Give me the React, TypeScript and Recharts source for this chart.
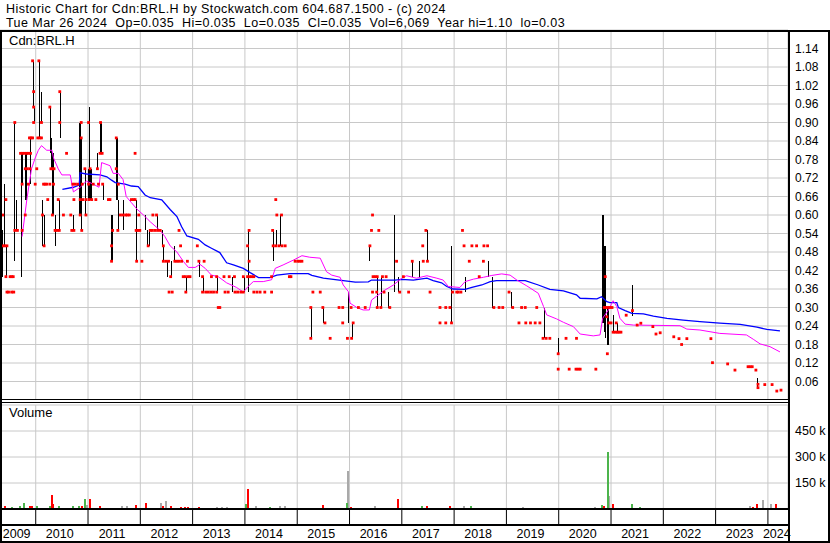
import React from 'react';
import { ComposedChart, Bar, Line, Scatter, XAxis, YAxis, CartesianGrid, Cell } from 'recharts';

const X_MIN = 2009.317;
const X_MAX = 2024.384;

const yearTicks = [2010, 2011, 2012, 2013, 2014, 2015, 2016, 2017, 2018, 2019, 2020, 2021, 2022, 2023, 2024];
const yearLabels = ['2009', '2010', '2011', '2012', '2013', '2014', '2015', '2016', '2017', '2018', '2019', '2020', '2021', '2022', '2023', '2024'];
const yearLabelPos = [2009.636, 2010.46, 2011.46, 2012.46, 2013.46, 2014.46, 2015.46, 2016.46, 2017.46, 2018.46, 2019.46, 2020.46, 2021.46, 2022.46, 2023.46, 2024.17];

const priceTicks = [0.06, 0.12, 0.18, 0.24, 0.3, 0.36, 0.42, 0.48, 0.54, 0.6, 0.66, 0.72, 0.78, 0.84, 0.9, 0.96, 1.02, 1.08, 1.14];
const priceTickLabels = ['0.06', '0.12', '0.18', '0.24', '0.30', '0.36', '0.42', '0.48', '0.54', '0.60', '0.66', '0.72', '0.78', '0.84', '0.90', '0.96', '1.02', '1.08', '1.14'];
const volumeTicks = [150000, 300000, 450000];
const volumeTickLabels = ['150 k', '300 k', '450 k'];

const headerLine1 = 'Historic Chart for Cdn:BRL.H by Stockwatch.com 604.687.1500 - (c) 2024';
const headerLine2 = 'Tue Mar 26 2024  Op=0.035  Hi=0.035  Lo=0.035  Cl=0.035  Vol=6,069  Year hi=1.10  lo=0.03';
const symbolLabel = 'Cdn:BRL.H';
const volumeLabel = 'Volume';

// [year, low, high]
const hlBars = [
  [2009.36, 0.4, 0.55], [2009.4, 0.5, 0.7], [2009.43, 0.4, 0.5], [2009.59, 0.45, 0.9], [2009.63, 0.55, 0.65],
  [2009.71, 0.4, 0.8], [2009.74, 0.7, 0.8], [2009.8, 0.65, 0.8], [2009.82, 0.65, 0.8], [2009.9, 0.7, 0.85],
  [2009.94, 0.95, 1.1], [2009.96, 0.9, 0.95], [2010.06, 0.85, 1.1], [2010.11, 0.9, 1.0], [2010.13, 0.5, 0.65],
  [2010.15, 0.5, 0.6], [2010.27, 0.8, 0.95], [2010.3, 0.75, 0.85], [2010.32, 0.6, 0.8], [2010.33, 0.6, 0.8],
  [2010.36, 0.5, 0.6], [2010.44, 0.55, 0.65], [2010.46, 0.85, 1.0], [2010.72, 0.55, 0.6], [2010.82, 0.6, 0.9],
  [2010.84, 0.6, 0.9], [2010.87, 0.55, 0.85], [2010.94, 0.6, 0.75], [2011.0, 0.65, 0.75], [2011.02, 0.65, 0.95],
  [2011.04, 0.65, 0.75], [2011.06, 0.65, 0.75], [2011.18, 0.75, 0.8], [2011.22, 0.8, 0.9], [2011.24, 0.8, 0.9],
  [2011.28, 0.65, 0.7], [2011.44, 0.45, 0.6], [2011.46, 0.45, 0.6], [2011.53, 0.65, 0.85], [2011.55, 0.65, 0.85],
  [2011.57, 0.55, 0.65], [2011.67, 0.55, 0.65], [2011.92, 0.45, 0.65], [2012.09, 0.55, 0.6], [2012.12, 0.5, 0.55],
  [2012.17, 0.5, 0.55], [2012.31, 0.55, 0.6], [2012.41, 0.5, 0.55], [2012.44, 0.45, 0.5], [2012.52, 0.4, 0.45],
  [2012.59, 0.4, 0.45], [2012.65, 0.45, 0.5], [2012.87, 0.35, 0.4], [2013.13, 0.4, 0.45], [2013.19, 0.35, 0.4],
  [2013.46, 0.35, 0.4], [2013.76, 0.35, 0.4], [2013.99, 0.35, 0.4], [2014.06, 0.35, 0.55], [2014.53, 0.45, 0.55],
  [2014.59, 0.5, 0.55], [2014.68, 0.5, 0.6], [2015.26, 0.2, 0.3], [2015.5, 0.25, 0.3], [2015.98, 0.25, 0.35],
  [2016.04, 0.2, 0.25], [2016.38, 0.45, 0.5], [2016.52, 0.3, 0.4], [2016.6, 0.3, 0.4], [2016.74, 0.3, 0.35],
  [2016.85, 0.35, 0.6], [2016.93, 0.35, 0.4], [2017.19, 0.4, 0.45], [2017.32, 0.4, 0.45], [2017.49, 0.45, 0.55],
  [2017.95, 0.25, 0.5], [2018.21, 0.35, 0.4], [2018.65, 0.4, 0.45], [2018.73, 0.3, 0.4], [2019.09, 0.3, 0.35],
  [2019.71, 0.2, 0.3], [2019.99, 0.15, 0.2], [2020.83, 0.25, 0.6], [2020.85, 0.25, 0.6], [2020.86, 0.22, 0.5],
  [2020.88, 0.2, 0.5], [2020.92, 0.18, 0.3], [2020.95, 0.18, 0.3], [2021.04, 0.22, 0.275], [2021.12, 0.22, 0.25],
  [2021.4, 0.272, 0.373], [2023.8, 0.038, 0.07], [2023.93, 0.045, 0.052],
];

// [year, price] trade ticks
const tradeDots = [
  [2009.94, 1.1], [2010.06, 1.1],
  [2009.96, 1.0], [2010.46, 1.0],
  [2009.96, 0.95], [2010.27, 0.95],
  [2009.6, 0.9], [2009.96, 0.9], [2010.11, 0.9], [2010.46, 0.9], [2010.87, 0.9], [2011.01, 0.9], [2011.24, 0.9],
  [2009.88, 0.85], [2009.91, 0.85], [2009.94, 0.85], [2010.04, 0.85], [2010.08, 0.85], [2010.11, 0.85], [2010.87, 0.85], [2011.54, 0.85],
  [2009.71, 0.8], [2009.75, 0.8], [2009.79, 0.8], [2009.83, 0.8], [2009.86, 0.8], [2009.9, 0.8], [2010.59, 0.8], [2011.23, 0.8], [2011.27, 0.8], [2011.9, 0.8],
  [2009.8, 0.75], [2009.84, 0.75], [2009.89, 0.75], [2010.02, 0.75], [2010.29, 0.75], [2010.32, 0.75], [2010.35, 0.75], [2010.94, 0.75], [2011.04, 0.75], [2011.18, 0.75], [2011.54, 0.75],
  [2009.74, 0.7], [2009.86, 0.7], [2009.99, 0.7], [2010.15, 0.7], [2010.18, 0.7], [2010.21, 0.7], [2010.27, 0.7], [2010.34, 0.7], [2010.71, 0.7], [2010.75, 0.7], [2010.8, 0.7], [2010.89, 0.7], [2011.01, 0.7], [2011.1, 0.7], [2011.2, 0.7], [2011.28, 0.7], [2011.58, 0.7],
  [2009.43, 0.65], [2010.23, 0.65], [2010.43, 0.65], [2010.73, 0.65], [2010.85, 0.65], [2010.9, 0.65], [2010.96, 0.65], [2011.02, 0.65], [2011.07, 0.65], [2011.15, 0.65], [2011.39, 0.65], [2011.42, 0.65], [2011.83, 0.65], [2011.87, 0.65], [2011.9, 0.65], [2014.59, 0.65],
  [2009.37, 0.6], [2009.8, 0.6], [2010.13, 0.6], [2010.32, 0.6], [2010.53, 0.6], [2010.67, 0.6], [2010.85, 0.6], [2010.96, 0.6], [2011.62, 0.6], [2011.67, 0.6], [2011.72, 0.6], [2011.75, 0.6], [2011.79, 0.6], [2011.97, 0.6], [2012.24, 0.6], [2012.31, 0.6], [2014.61, 0.6], [2014.7, 0.6], [2016.44, 0.6],
  [2009.6, 0.55], [2009.65, 0.55], [2009.74, 0.55], [2010.37, 0.55], [2010.41, 0.55], [2010.45, 0.55], [2010.69, 0.55], [2010.73, 0.55], [2010.88, 0.55], [2011.47, 0.55], [2011.57, 0.55], [2011.92, 0.55], [2011.96, 0.55], [2011.99, 0.55], [2012.19, 0.55], [2012.23, 0.55], [2012.28, 0.55], [2012.33, 0.55], [2012.38, 0.55], [2012.74, 0.55], [2014.08, 0.55], [2014.53, 0.55], [2016.42, 0.55], [2016.56, 0.55], [2017.46, 0.55], [2018.16, 0.55],
  [2009.37, 0.5], [2009.41, 0.5], [2009.45, 0.5], [2010.16, 0.5], [2011.45, 0.5], [2012.15, 0.5], [2012.44, 0.5], [2012.77, 0.5], [2013.09, 0.5], [2014.05, 0.5], [2014.54, 0.5], [2014.59, 0.5], [2014.65, 0.5], [2014.71, 0.5], [2014.77, 0.5], [2016.39, 0.5], [2017.4, 0.5], [2018.19, 0.5], [2018.34, 0.5], [2018.43, 0.5], [2018.57, 0.5], [2018.64, 0.5],
  [2011.45, 0.45], [2011.93, 0.45], [2012.03, 0.45], [2012.44, 0.45], [2012.49, 0.45], [2012.54, 0.45], [2012.66, 0.45], [2012.7, 0.45], [2012.74, 0.45], [2012.79, 0.45], [2012.9, 0.45], [2013.12, 0.45], [2013.22, 0.45], [2014.08, 0.45], [2014.96, 0.45], [2015.01, 0.45], [2015.05, 0.45], [2015.09, 0.45], [2016.9, 0.45], [2017.2, 0.45], [2017.41, 0.45], [2017.49, 0.45], [2018.29, 0.45], [2018.56, 0.45],
  [2009.43, 0.4], [2009.51, 0.4], [2009.54, 0.4], [2009.57, 0.4], [2012.58, 0.4], [2012.82, 0.4], [2012.86, 0.4], [2012.91, 0.4], [2012.95, 0.4], [2013.19, 0.4], [2013.36, 0.4], [2013.46, 0.4], [2013.6, 0.4], [2013.7, 0.4], [2013.8, 0.4], [2013.97, 0.4], [2014.05, 0.4], [2014.09, 0.4], [2014.13, 0.4], [2014.17, 0.4], [2014.51, 0.4], [2014.85, 0.4], [2014.88, 0.4], [2016.45, 0.4], [2016.49, 0.4], [2016.53, 0.4], [2016.63, 0.4], [2016.7, 0.4], [2017.03, 0.4], [2018.48, 0.4],
  [2009.45, 0.35], [2009.48, 0.35], [2009.54, 0.35], [2009.58, 0.35], [2012.55, 0.35], [2012.61, 0.35], [2012.87, 0.35], [2013.19, 0.35], [2013.25, 0.35], [2013.3, 0.35], [2013.35, 0.35], [2013.4, 0.35], [2013.46, 0.35], [2013.62, 0.35], [2013.68, 0.35], [2013.81, 0.35], [2013.86, 0.35], [2013.92, 0.35], [2013.97, 0.35], [2014.17, 0.35], [2014.23, 0.35], [2014.29, 0.35], [2014.38, 0.35], [2014.51, 0.35], [2015.3, 0.35], [2015.44, 0.35], [2016.44, 0.35], [2016.52, 0.35], [2016.66, 0.35], [2016.96, 0.35], [2017.13, 0.35], [2017.54, 0.35], [2017.97, 0.35], [2018.05, 0.35], [2018.08, 0.35], [2018.13, 0.35], [2019.05, 0.35],
  [2013.49, 0.3], [2013.52, 0.3], [2015.26, 0.3], [2015.49, 0.3], [2015.8, 0.3], [2015.87, 0.3], [2016.03, 0.3], [2016.17, 0.3], [2016.3, 0.3], [2016.53, 0.3], [2016.6, 0.3], [2016.77, 0.3], [2017.73, 0.3], [2017.84, 0.3], [2017.92, 0.3], [2018.76, 0.3], [2018.86, 0.3], [2018.93, 0.3], [2019.12, 0.3], [2019.29, 0.3], [2019.36, 0.3], [2019.58, 0.3],
  [2015.53, 0.25], [2015.87, 0.25], [2016.07, 0.25], [2017.73, 0.25], [2017.84, 0.25], [2017.95, 0.25], [2019.24, 0.25], [2019.37, 0.25], [2019.46, 0.25], [2019.55, 0.25], [2019.64, 0.25],
  [2015.26, 0.2], [2015.63, 0.2], [2015.96, 0.2], [2016.04, 0.2], [2019.7, 0.2], [2019.76, 0.2], [2019.83, 0.2], [2020.14, 0.2], [2020.34, 0.2],
  [2019.99, 0.15],
  [2019.99, 0.1], [2020.2, 0.1], [2020.33, 0.1], [2020.37, 0.1], [2020.41, 0.1], [2020.71, 0.1],
  [2020.89, 0.4], [2020.87, 0.3], [2020.9, 0.3], [2020.94, 0.3], [2020.98, 0.3], [2021.02, 0.3], [2020.92, 0.27], [2020.96, 0.25], [2021.0, 0.25],
  [2020.93, 0.15], [2021.04, 0.22], [2021.08, 0.22], [2021.12, 0.22], [2021.15, 0.22], [2021.19, 0.22], [2021.1, 0.25],
  [2021.29, 0.275], [2021.41, 0.29], [2021.5, 0.243], [2021.57, 0.249], [2021.8, 0.238], [2021.86, 0.214], [2021.94, 0.218],
  [2022.2, 0.205], [2022.3, 0.199], [2022.35, 0.18], [2022.45, 0.199], [2022.91, 0.199], [2022.94, 0.121], [2023.23, 0.117],
  [2023.37, 0.097], [2023.62, 0.108], [2023.66, 0.108], [2023.7, 0.108], [2023.77, 0.097], [2023.81, 0.051], [2023.81, 0.04],
  [2023.94, 0.05], [2024.08, 0.05], [2024.17, 0.029], [2024.25, 0.032],
];

// long moving average (blue)
const maLong = [
  [2010.51, 0.683], [2010.72, 0.69], [2010.83, 0.697], [2010.85, 0.737], [2010.97, 0.733], [2011.23, 0.73],
  [2011.36, 0.724], [2011.45, 0.713], [2011.52, 0.705], [2011.71, 0.7], [2011.83, 0.694], [2011.96, 0.692],
  [2012.09, 0.665], [2012.19, 0.656], [2012.41, 0.649], [2012.57, 0.618], [2012.7, 0.595], [2012.79, 0.562],
  [2012.89, 0.532], [2013.11, 0.521], [2013.24, 0.503], [2013.36, 0.492], [2013.52, 0.478], [2013.65, 0.445],
  [2013.78, 0.438], [2013.97, 0.427], [2014.1, 0.413], [2014.26, 0.397], [2014.48, 0.397], [2014.61, 0.405],
  [2014.86, 0.41], [2015.21, 0.41], [2015.28, 0.404], [2015.5, 0.395], [2015.69, 0.391], [2015.88, 0.387],
  [2016.11, 0.382], [2016.36, 0.383], [2016.42, 0.389], [2016.87, 0.389], [2017.0, 0.391], [2017.22, 0.389],
  [2017.48, 0.395], [2017.6, 0.387], [2017.76, 0.38], [2017.86, 0.368], [2017.98, 0.36], [2018.21, 0.359],
  [2018.34, 0.365], [2018.53, 0.373], [2018.69, 0.384], [2018.81, 0.387], [2019.36, 0.387], [2019.61, 0.373],
  [2019.83, 0.359], [2020.09, 0.354], [2020.34, 0.341], [2020.41, 0.33], [2020.73, 0.328], [2020.82, 0.335],
  [2020.92, 0.319], [2020.98, 0.316], [2021.11, 0.316], [2021.14, 0.3], [2021.27, 0.29], [2021.4, 0.281],
  [2021.62, 0.279], [2021.81, 0.272], [2022.07, 0.265], [2022.38, 0.259], [2022.7, 0.254], [2023.08, 0.249],
  [2023.47, 0.245], [2023.79, 0.236], [2023.98, 0.229], [2024.23, 0.224],
];

// short moving average (magenta)
const maShort = [
  [2009.74, 0.53], [2009.83, 0.65], [2009.92, 0.75], [2009.99, 0.785], [2010.05, 0.81], [2010.11, 0.825],
  [2010.21, 0.81], [2010.31, 0.81], [2010.34, 0.785], [2010.43, 0.75], [2010.5, 0.73], [2010.66, 0.73],
  [2010.72, 0.675], [2010.85, 0.69], [2010.97, 0.71], [2011.1, 0.7], [2011.21, 0.69], [2011.26, 0.77],
  [2011.42, 0.76], [2011.48, 0.735], [2011.58, 0.735], [2011.67, 0.715], [2011.73, 0.66], [2011.83, 0.64],
  [2011.93, 0.62], [2012.06, 0.6], [2012.19, 0.578], [2012.38, 0.55], [2012.47, 0.53], [2012.57, 0.5],
  [2012.7, 0.48], [2012.82, 0.45], [2012.92, 0.43], [2013.05, 0.43], [2013.14, 0.44], [2013.24, 0.427],
  [2013.36, 0.405], [2013.49, 0.4], [2013.65, 0.38], [2013.84, 0.365], [2013.97, 0.35], [2014.06, 0.368],
  [2014.16, 0.384], [2014.35, 0.384], [2014.51, 0.39], [2014.58, 0.427], [2014.73, 0.438], [2014.93, 0.454],
  [2015.09, 0.468], [2015.24, 0.463], [2015.44, 0.46], [2015.56, 0.416], [2015.66, 0.405], [2015.82, 0.398],
  [2015.88, 0.373], [2015.98, 0.351], [2016.01, 0.314], [2016.14, 0.3], [2016.26, 0.292], [2016.38, 0.292],
  [2016.42, 0.324], [2016.52, 0.337], [2016.68, 0.357], [2016.84, 0.373], [2017.0, 0.395], [2017.09, 0.403],
  [2017.28, 0.395], [2017.48, 0.403], [2017.67, 0.395], [2017.79, 0.389], [2017.89, 0.368], [2018.11, 0.365],
  [2018.21, 0.384], [2018.37, 0.392], [2018.56, 0.398], [2018.72, 0.404], [2018.91, 0.409], [2019.07, 0.405],
  [2019.2, 0.389], [2019.39, 0.37], [2019.61, 0.346], [2019.71, 0.303], [2019.77, 0.276], [2019.96, 0.263],
  [2020.09, 0.252], [2020.28, 0.238], [2020.41, 0.214], [2020.66, 0.208], [2020.79, 0.211], [2020.84, 0.265],
  [2020.95, 0.292], [2021.04, 0.322], [2021.11, 0.303], [2021.17, 0.265], [2021.27, 0.246], [2021.43, 0.243],
  [2022.32, 0.241], [2022.45, 0.23], [2022.7, 0.227], [2023.08, 0.216], [2023.59, 0.211], [2023.72, 0.197],
  [2023.85, 0.182], [2024.04, 0.173], [2024.23, 0.156],
];

// [year, volume, direction] u = up, d = down, n = unchanged
const volumes = [
  [2009.33, 25000, 'u'], [2009.41, 19000, 'd'], [2009.55, 10000, 'u'], [2009.7, 15000, 'u'], [2009.78, 33000, 'u'],
  [2009.89, 19000, 'd'], [2009.93, 19000, 'd'], [2010.03, 19000, 'u'], [2010.18, 6000, 'n'], [2010.27, 19000, 'u'],
  [2010.31, 82000, 'd'], [2010.34, 29000, 'd'], [2010.45, 19000, 'u'], [2010.56, 6000, 'd'], [2010.72, 19000, 'u'],
  [2010.83, 19000, 'u'], [2010.88, 15000, 'd'], [2010.94, 60000, 'u'], [2010.99, 25000, 'n'], [2011.03, 60000, 'd'],
  [2011.13, 6000, 'n'], [2011.23, 15000, 'd'], [2011.42, 6000, 'd'], [2011.52, 6000, 'u'], [2011.65, 15000, 'n'],
  [2011.75, 15000, 'n'], [2011.8, 6000, 'd'], [2011.91, 25000, 'd'], [2011.99, 8000, 'u'], [2012.11, 37000, 'd'],
  [2012.19, 8000, 'u'], [2012.26, 6000, 'u'], [2012.39, 37000, 'n'], [2012.44, 19000, 'd'], [2012.5, 48000, 'n'],
  [2012.58, 19000, 'd'], [2012.68, 8000, 'n'], [2012.78, 12000, 'd'], [2012.85, 12000, 'd'], [2012.91, 12000, 'd'],
  [2013.05, 6000, 'n'], [2013.13, 12000, 'd'], [2013.22, 8000, 'd'], [2013.33, 6000, 'n'], [2013.46, 12000, 'n'],
  [2013.56, 12000, 'n'], [2013.66, 12000, 'n'], [2013.77, 6000, 'd'], [2013.91, 8000, 'n'], [2014.03, 31000, 'u'],
  [2014.06, 117000, 'd'], [2014.14, 8000, 'n'], [2014.21, 19000, 'n'], [2014.33, 6000, 'd'], [2014.48, 12000, 'u'],
  [2014.58, 8000, 'n'], [2014.67, 19000, 'n'], [2014.77, 19000, 'n'], [2014.9, 6000, 'n'], [2015.05, 6000, 'n'],
  [2015.24, 6000, 'u'], [2015.38, 6000, 'd'], [2015.49, 25000, 'd'], [2015.63, 6000, 'n'], [2015.76, 6000, 'u'],
  [2015.87, 6000, 'u'], [2015.97, 220000, 'n'], [2015.96, 37000, 'u'], [2016.03, 12000, 'd'], [2016.16, 6000, 'u'],
  [2016.3, 6000, 'n'], [2016.49, 19000, 'n'], [2016.62, 8000, 'u'], [2016.77, 6000, 'n'], [2016.92, 60000, 'd'],
  [2017.02, 6000, 'n'], [2017.16, 8000, 'n'], [2017.28, 8000, 'd'], [2017.38, 19000, 'u'], [2017.48, 19000, 'd'],
  [2017.58, 6000, 'n'], [2017.73, 8000, 'n'], [2017.83, 8000, 'd'], [2017.93, 19000, 'd'], [2018.06, 8000, 'n'],
  [2018.18, 19000, 'n'], [2018.32, 19000, 'u'], [2018.46, 8000, 'd'], [2018.57, 8000, 'd'], [2018.69, 8000, 'n'],
  [2018.82, 8000, 'n'], [2018.97, 6000, 'n'], [2019.13, 6000, 'd'], [2019.32, 12000, 'n'], [2019.45, 6000, 'n'],
  [2019.64, 8000, 'd'], [2019.8, 6000, 'n'], [2019.95, 6000, 'd'], [2020.14, 6000, 'n'], [2020.33, 6000, 'n'],
  [2020.5, 6000, 'n'], [2020.69, 12000, 'n'], [2020.82, 25000, 'u'], [2020.87, 19000, 'd'], [2020.96, 77000, 'n'],
  [2020.94, 329000, 'u'], [2021.03, 31000, 'd'], [2021.12, 8000, 'd'], [2021.23, 8000, 'u'], [2021.31, 6000, 'd'],
  [2021.4, 31000, 'u'], [2021.5, 8000, 'd'], [2021.56, 12000, 'u'], [2021.75, 6000, 'd'], [2021.84, 6000, 'd'],
  [2021.94, 6000, 'u'], [2022.13, 6000, 'n'], [2022.29, 8000, 'd'], [2022.38, 8000, 'u'], [2022.47, 6000, 'n'],
  [2022.7, 4000, 'n'], [2022.92, 8000, 'd'], [2023.18, 6000, 'd'], [2023.33, 6000, 'd'], [2023.5, 6000, 'n'],
  [2023.66, 19000, 'n'], [2023.72, 12000, 'd'], [2023.79, 31000, 'd'], [2023.91, 54000, 'n'], [2024.05, 27000, 'n'],
  [2024.15, 31000, 'd'], [2024.23, 8000, 'u'],
];

const volColors = { u: '#4cb44c', d: '#ff0000', n: '#a9a9a9' };

const barRows = hlBars.map(([t, lo, hi]) => ({ t, hl: [lo, hi] }));
const dotRows = tradeDots.map(([t, p]) => ({ t, p }));
const maLongRows = maLong.map(([t, v]) => ({ t, v }));
const maShortRows = maShort.map(([t, v]) => ({ t, v }));
const volRows = volumes.map(([t, v, c]) => ({ t, v, c }));

const FONT = '"Liberation Sans", Arial, sans-serif';

const RedTick = (props: any) => {
  const { cx, cy } = props;
  if (cx == null || cy == null) return <g />;
  return <rect x={cx - 1.4} y={cy - 1.4} width={2.8} height={2.8} fill="#ff0000" />;
};

// draws the library-positioned bar as a fixed-width stick centred on its slot
const makeStick = (w: number) => (props: any) => {
  const { x, y, width, height, fill } = props;
  if (x == null || y == null || height == null) return <g />;
  const cx = Math.round(x + (width || 0) / 2);
  const top = Math.min(y, y + height);
  const h = Math.max(Math.abs(height), 1);
  return <rect x={cx - w / 2} y={top} width={w} height={h} fill={fill} shapeRendering="crispEdges" />;
};
const PriceStick = makeStick(1);
const VolumeStick = makeStick(2);

const EmptyTick = () => <g />;

const line = (style: React.CSSProperties) => (
  <div style={{ position: 'absolute', background: '#000', ...style }} />
);

const headerStyle: React.CSSProperties = {
  position: 'absolute',
  left: 6,
  fontSize: 12.5,
  letterSpacing: '0.45px',
  lineHeight: '14px',
  whiteSpace: 'pre',
  color: '#000',
};

export default function App() {
  return (
    <div style={{ position: 'absolute', left: 0, top: 0, width: 830, height: 543, background: '#fff', fontFamily: FONT, overflow: 'hidden' }}>
      <div style={{ ...headerStyle, top: 2 }}>{headerLine1}</div>
      <div style={{ ...headerStyle, top: 16 }}>{headerLine2}</div>

      <div style={{ position: 'absolute', left: 0, top: 0 }}>
        <ComposedChart width={830} height={400} data={barRows} margin={{ top: 30, right: 0, bottom: 0, left: 0 }}>
          <CartesianGrid stroke="#c8c8c8" strokeWidth={1} />
          <XAxis dataKey="t" type="number" domain={[X_MIN, X_MAX]} ticks={yearTicks} allowDataOverflow hide />
          <YAxis
            orientation="right"
            width={42}
            type="number"
            domain={[0, 1.2]}
            allowDataOverflow
            ticks={priceTicks}
            interval={0}
            tickFormatter={(v: number, i: number) => priceTickLabels[i]}
            axisLine={false}
            tickLine={false}
            tickSize={5}
            tickMargin={2}
            tick={{ fill: '#000', fontSize: 12, fontFamily: FONT, textAnchor: 'start' }}
          />
          <Bar dataKey="hl" fill="#000" barSize={2} shape={PriceStick} isAnimationActive={false} />
          <Line data={maLongRows} dataKey="v" type="linear" stroke="#0000ff" strokeWidth={1.3} dot={false} activeDot={false} isAnimationActive={false} />
          <Line data={maShortRows} dataKey="v" type="linear" stroke="#ff00ff" strokeWidth={1} dot={false} activeDot={false} isAnimationActive={false} />
          <Scatter data={dotRows} dataKey="p" shape={RedTick} isAnimationActive={false} />
        </ComposedChart>
      </div>

      <div style={{ position: 'absolute', left: 0, top: 400 }}>
        <ComposedChart width={830} height={143} data={volRows} margin={{ top: 5, right: 0, bottom: 1, left: 0 }}>
          <CartesianGrid stroke="#c8c8c8" strokeWidth={1} />
          <XAxis
            dataKey="t"
            type="number"
            domain={[X_MIN, X_MAX]}
            allowDataOverflow
            ticks={yearTicks}
            interval={0}
            height={16}
            tickSize={16}
            tickLine={{ stroke: '#000', strokeWidth: 1 }}
            axisLine={{ stroke: '#000', strokeWidth: 2 }}
            tick={EmptyTick}
          />
          <XAxis
            xAxisId="lab"
            dataKey="t"
            type="number"
            domain={[X_MIN, X_MAX]}
            allowDataOverflow
            ticks={yearLabelPos}
            interval={0}
            height={17}
            tickSize={0}
            tickMargin={4}
            tickLine={false}
            axisLine={{ stroke: '#000', strokeWidth: 2 }}
            tickFormatter={(v: number, i: number) => yearLabels[i]}
            tick={{ fill: '#000', fontSize: 12.5, fontFamily: FONT }}
          />
          <YAxis
            orientation="right"
            width={42}
            type="number"
            domain={[0, 600000]}
            allowDataOverflow
            ticks={volumeTicks}
            interval={0}
            tickFormatter={(v: number, i: number) => volumeTickLabels[i]}
            axisLine={false}
            tickLine={false}
            tickSize={5}
            tickMargin={2}
            tick={{ fill: '#000', fontSize: 12.5, fontFamily: FONT, textAnchor: 'start' }}
          />
          <Bar dataKey="v" barSize={2} shape={VolumeStick} isAnimationActive={false}>
            {volRows.map((r, i) => (
              <Cell key={i} fill={volColors[r.c as 'u' | 'd' | 'n']} />
            ))}
          </Bar>
        </ComposedChart>
      </div>

      <div style={{ position: 'absolute', left: 9, top: 33, fontSize: 13, lineHeight: '15px', color: '#000' }}>{symbolLabel}</div>
      <div style={{ position: 'absolute', left: 9, top: 405, fontSize: 13, lineHeight: '15px', color: '#000' }}>{volumeLabel}</div>

      {line({ left: 0, top: 30, width: 830, height: 2 })}
      {line({ left: 0, top: 30, width: 2, height: 513 })}
      {line({ left: 828, top: 30, width: 2, height: 513 })}
      {line({ left: 0, top: 541, width: 830, height: 2 })}
      {line({ left: 788, top: 30, width: 2, height: 513 })}
      {line({ left: 0, top: 399, width: 789, height: 1 })}
      {line({ left: 0, top: 402, width: 789, height: 1 })}
    </div>
  );
}
